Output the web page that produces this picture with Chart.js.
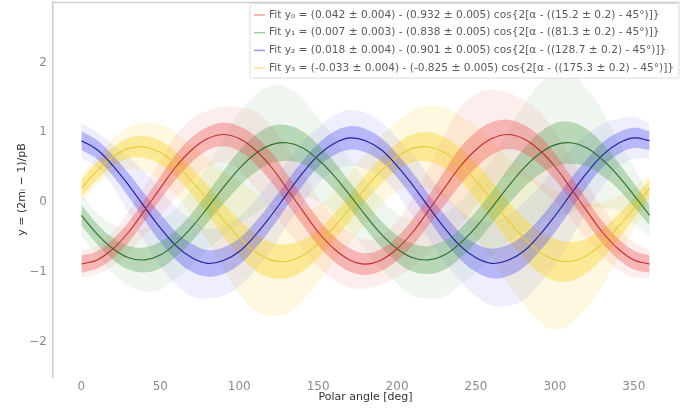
<!DOCTYPE html>
<html><head><meta charset="utf-8">
<script src="https://cdn.jsdelivr.net/npm/chart.js@4.4.1/dist/chart.umd.min.js"></script>
<style>html,body{margin:0;padding:0;background:#fff;}#wrap{width:692px;height:417px;}</style>
</head><body><div id="wrap"><canvas id="c" width="692" height="417"></canvas></div>
<script>
const angles = [0,10,20,30,40,50,60,70,80,90,100,110,120,130,140,150,160,170,180,190,200,210,220,230,240,250,260,270,280,290,300,310,320,330,340,350,360];
const xTicks = [0,50,100,150,200,250,300,350];
const yTicks = [-2,-1,0,1,2];

// fitted curves
const fitY0 = [-0.89,-0.83,-0.67,-0.43,-0.12,0.20,0.51,0.75,0.91,0.97,0.91,0.75,0.51,0.20,-0.12,-0.43,-0.67,-0.83,-0.89,-0.83,-0.67,-0.43,-0.12,0.20,0.51,0.75,0.91,0.97,0.91,0.75,0.51,0.20,-0.12,-0.43,-0.67,-0.83,-0.89];
const fitY1 = [-0.19,-0.46,-0.67,-0.80,-0.83,-0.76,-0.59,-0.36,-0.08,0.21,0.48,0.69,0.82,0.85,0.78,0.61,0.38,0.10,-0.19,-0.46,-0.67,-0.80,-0.83,-0.76,-0.59,-0.36,-0.08,0.21,0.48,0.69,0.82,0.85,0.78,0.61,0.38,0.10,-0.19];
const fitY2 = [0.88,0.75,0.52,0.24,-0.07,-0.37,-0.63,-0.80,-0.88,-0.84,-0.71,-0.48,-0.20,0.11,0.41,0.67,0.84,0.92,0.88,0.75,0.52,0.24,-0.07,-0.37,-0.63,-0.80,-0.88,-0.84,-0.71,-0.48,-0.20,0.11,0.41,0.67,0.84,0.92,0.88];
const fitY3 = [0.20,0.45,0.65,0.77,0.79,0.71,0.54,0.30,0.03,-0.26,-0.51,-0.71,-0.83,-0.85,-0.77,-0.60,-0.36,-0.09,0.20,0.45,0.65,0.77,0.79,0.71,0.54,0.30,0.03,-0.26,-0.51,-0.71,-0.83,-0.85,-0.77,-0.60,-0.36,-0.09,0.20];

// half-width of the scattered measurements (with error bars) around each curve
const spreadY0 = [0.2,0.2,0.25,0.3,0.35,0.4,0.45,0.45,0.4,0.4,0.45,0.55,0.6,0.6,0.55,0.5,0.45,0.4,0.35,0.35,0.4,0.5,0.6,0.75,0.85,0.8,0.7,0.6,0.55,0.55,0.5,0.45,0.4,0.35,0.3,0.25,0.2];
const spreadY1 = [0.3,0.3,0.35,0.4,0.45,0.5,0.5,0.55,0.6,0.7,0.8,0.85,0.85,0.8,0.7,0.6,0.55,0.5,0.5,0.5,0.5,0.55,0.55,0.6,0.6,0.65,0.7,0.8,0.9,1.0,1.05,1.0,0.85,0.7,0.5,0.4,0.3];
const spreadY2 = [0.25,0.25,0.3,0.4,0.5,0.55,0.55,0.55,0.5,0.5,0.5,0.5,0.5,0.45,0.45,0.4,0.4,0.4,0.4,0.4,0.4,0.45,0.45,0.5,0.5,0.55,0.6,0.65,0.7,0.7,0.7,0.65,0.55,0.45,0.35,0.3,0.25];
const spreadY3 = [0.2,0.2,0.25,0.3,0.35,0.4,0.45,0.5,0.6,0.7,0.8,0.85,0.8,0.75,0.65,0.55,0.5,0.5,0.5,0.5,0.5,0.55,0.6,0.65,0.7,0.8,0.85,0.9,0.95,1.0,1.0,0.9,0.75,0.6,0.45,0.3,0.2];

const fitLabels = [
  "Fit y₀ = (0.042 ± 0.004) - (0.932 ± 0.005) cos{2[α - ((15.2 ± 0.2) - 45°)]}",
  "Fit y₁ = (0.007 ± 0.003) - (0.838 ± 0.005) cos{2[α - ((81.3 ± 0.2) - 45°)]}",
  "Fit y₂ = (0.018 ± 0.004) - (0.901 ± 0.005) cos{2[α - ((128.7 ± 0.2) - 45°)]}",
  "Fit y₃ = (-0.033 ± 0.004) - (-0.825 ± 0.005) cos{2[α - ((175.3 ± 0.2) - 45°)]}"
];
const xTitle = "Polar angle [deg]";
const yTitle = "y = (2mᵢ − 1)/pB";

const FONT = "'DejaVu Sans', sans-serif";
const fits = [fitY0, fitY1, fitY2, fitY3];
const spreads = [spreadY0, spreadY1, spreadY2, spreadY3];
const dataRGB = ['236,72,72', '80,158,80', '64,64,238', '246,214,60'];
const outerA = [0.09, 0.09, 0.09, 0.16];
const coreA = [0.34, 0.34, 0.32, 0.45];
const lineCol = ['#c0302e', '#2f6f2f', '#1f1f9c', '#e8cb3a'];

const datasets = [];
fits.forEach((fit, i) => {
  const sp = spreads[i];
  const band = (w, alpha, ord) => {
    datasets.push({ type:'line', label:'', data: angles.map((a,k)=>({x:a, y: fit[k] - w(sp[k])})),
      borderWidth:0, pointRadius:0, fill:false, tension:0.4, order: ord });
    datasets.push({ type:'line', label:'', data: angles.map((a,k)=>({x:a, y: fit[k] + w(sp[k])})),
      borderWidth:0, pointRadius:0, fill:'-1', backgroundColor:`rgba(${dataRGB[i]},${alpha})`, tension:0.4, order: ord });
  };
  band(s => s, outerA[i], 10 + i);
  band(s => 0.08 + 0.22 * s, coreA[i], 5 + i);
});
fits.forEach((fit, i) => {
  datasets.push({ type:'line', label: fitLabels[i], data: angles.map((a,k)=>({x:a, y: fit[k]})),
    borderColor: lineCol[i], borderWidth: 1.1, pointRadius:0, fill:false, tension:0.4, order: 0 });
});

const extras = {
  id: 'extras',
  afterDraw(chart) {
    const {ctx, chartArea: ca} = chart;
    ctx.save();
    // top spine
    ctx.strokeStyle = '#cfcfcf'; ctx.lineWidth = 1.5;
    ctx.beginPath(); ctx.moveTo(ca.left, ca.top + 0.5); ctx.lineTo(ca.right + 2, ca.top + 0.5); ctx.stroke();
    // legend
    ctx.font = `10.6px ${FONT}`;
    const widths = fitLabels.map(t => ctx.measureText(t).width);
    const maxW = Math.max(...widths);
    const textRight = ca.right - 4;
    const textX = textRight - maxW;
    const boxL = textX - 19, boxT = ca.top + 1.5, boxR = ca.right + 1, boxB = 78;
    ctx.beginPath();
    if (ctx.roundRect) ctx.roundRect(boxL, boxT, boxR - boxL, boxB - boxT, 2.5); else ctx.rect(boxL, boxT, boxR - boxL, boxB - boxT);
    ctx.fillStyle = 'rgba(255,255,255,0.82)'; ctx.fill();
    ctx.strokeStyle = '#dcdcdc'; ctx.lineWidth = 1; ctx.stroke();
    ctx.textBaseline = 'middle'; ctx.textAlign = 'left';
    fitLabels.forEach((t, i) => {
      const y = 15 + i * 17.7;
      ctx.strokeStyle = `rgba(${dataRGB[i]},0.55)`; ctx.lineWidth = 1.5;
      ctx.beginPath(); ctx.moveTo(textX - 15, y); ctx.lineTo(textX - 4, y); ctx.stroke();
      ctx.fillStyle = '#5a5a5a';
      ctx.fillText(t, textX, y);
    });
    ctx.restore();
  }
};

new Chart(document.getElementById('c'), {
  data: { datasets },
  options: {
    responsive: false, animation: false,
    layout: { padding: { left: 0, top: 2, right: 14, bottom: 0 } },
    plugins: { legend: { display: false }, tooltip: { enabled: false } },
    scales: {
      x: { type: 'linear', min: -18, max: 378,
        grid: { display: false, drawTicks: false },
        border: { display: false },
        afterBuildTicks: s => { s.ticks = xTicks.map(v => ({ value: v })); },
        afterFit: s => { s.height = 40; s.paddingLeft = 0; s.paddingRight = 0; },
        ticks: { color: '#8c8c8c', font: { family: FONT, size: 12 }, padding: 3, maxRotation: 0, autoSkip: false },
        title: { display: true, text: xTitle, color: '#333', font: { family: FONT, size: 11 }, padding: { top: 0, bottom: 13 } }
      },
      y: { type: 'linear', min: -2.51, max: 2.87,
        grid: { display: false, drawTicks: false },
        border: { display: true, color: '#cfcfcf', width: 1.5 },
        afterBuildTicks: s => { s.ticks = yTicks.map(v => ({ value: v })); },
        afterFit: s => { s.width = 53; s.paddingTop = 0; s.paddingBottom = 0; },
        ticks: { color: '#8c8c8c', font: { family: FONT, size: 12 }, padding: 6,
          callback: v => String(v).replace('-', '−') },
        title: { display: true, text: yTitle, color: '#333', font: { family: FONT, size: 11 }, padding: { top: 16, bottom: 0 } }
      }
    }
  },
  plugins: [extras]
});
</script></body></html>
